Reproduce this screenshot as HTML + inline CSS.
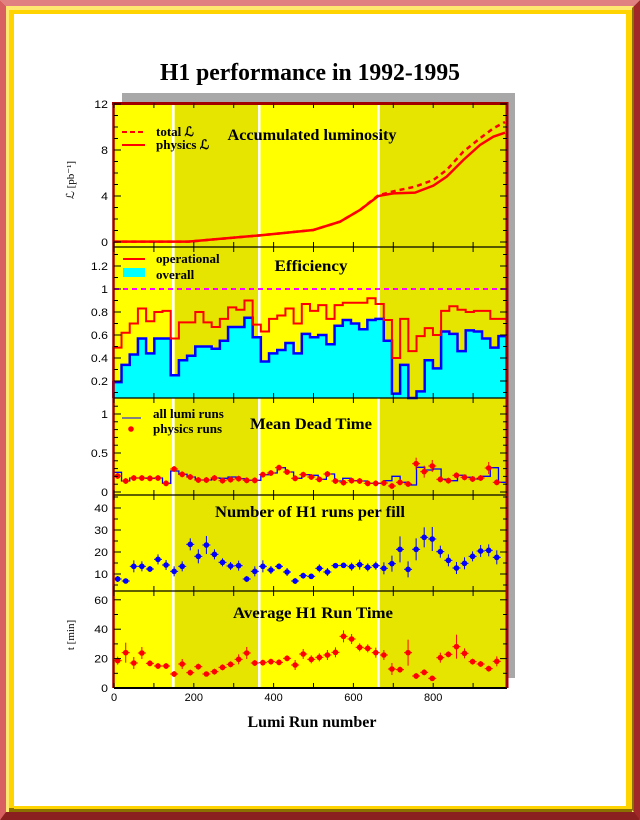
<!DOCTYPE html>
<html><head><meta charset="utf-8"><style>
html,body{margin:0;padding:0;background:#fff;}
body{width:640px;height:820px;position:relative;overflow:hidden;}
svg{position:absolute;left:0;top:0;}
</style></head><body>
<svg id="s" width="640" height="820" xmlns="http://www.w3.org/2000/svg">
<rect x="0" y="0" width="640" height="820" fill="#fff"/>
<polygon points="0,0 640,0 634,6 6,6" fill="#e08080"/>
<polygon points="0,0 6,6 6,814 0,820" fill="#d86060"/>
<polygon points="640,0 640,820 634,814 634,6" fill="#a02828"/>
<polygon points="0,820 640,820 634,812 6,812" fill="#8a2020"/>
<rect x="6" y="6" width="628" height="806" fill="#ffe870"/>
<rect x="9" y="10" width="623" height="798" fill="#ffd400"/>
<polygon points="632,8 634,6 634,812 632,810" fill="#8a7000"/>
<rect x="9" y="808" width="623" height="4" fill="#8a7000"/>
<rect x="14" y="14" width="612" height="792" fill="#fff"/>
<rect x="626" y="14" width="6" height="794" fill="#ffd400"/>
<rect x="14" y="806" width="618" height="3" fill="#ffd400"/>

<text x="310" y="80" text-anchor="middle" font-family="Liberation Serif" font-weight="bold" font-size="24" textLength="300" lengthAdjust="spacingAndGlyphs">H1 performance in 1992-1995</text>
<rect x="122" y="93" width="393" height="585" fill="#a8a8a8"/>
<g id="plot"></g>
</svg>
<script>
var NS="http://www.w3.org/2000/svg",g=document.getElementById('plot');
function el(t,a,txt){var e=document.createElementNS(NS,t);for(var k in a)e.setAttribute(k,a[k]);if(txt!==undefined)e.textContent=txt;g.appendChild(e);return e;}
var L=114,R=507,T=103,B=688;
function xu(u){return 114+u*0.399;}
el('rect',{x:L,y:T,width:R-L,height:B-T,fill:'#ffff00'});
el('rect',{x:175,y:T,width:83,height:B-T,fill:'#e5e500'});
el('rect',{x:380,y:T,width:R-380,height:B-T,fill:'#e5e500'});
[173,259,378].forEach(function(x){el('rect',{x:x-1,y:T,width:2.5,height:B-T,fill:'#fff'});});
function X(zx){return 60+zx/3;}function Y1(zy){return 90+zy/3;}function Y2(zy){return 395+zy/3;}
var N=48,bw=(1340-160)/N;
var red=[.49,.62,.70,.83,.72,.80,.81,.57,.71,.71,.80,.71,.67,.74,.84,.82,.90,.69,.63,.74,.77,.83,.70,.87,.81,.86,.74,.86,.88,.88,.88,.92,.87,.73,.40,.74,.46,.59,.66,.60,.81,.85,.82,.80,.81,.81,.74,.74,.76];
var blu=[.19,.34,.43,.57,.44,.57,.57,.25,.38,.42,.50,.50,.48,.55,.67,.67,.75,.58,.37,.44,.47,.53,.44,.61,.58,.60,.52,.68,.73,.70,.65,.73,.74,.55,.09,.34,0,.11,.38,.31,.63,.61,.46,.64,.63,.57,.49,.59,.45];
red=red.slice(0,N);blu=blu.slice(0,N);
function ye(v){return 289+(1-v)*115;}
function hist(vals,yf,bot){var d='M'+X(160)+','+bot;for(var i=0;i<N;i++){var y=Math.min(yf(vals[i]),bot);d+=' L'+X(160+i*bw)+','+y+' L'+X(160+(i+1)*bw)+','+y;}d+=' L'+X(1340)+','+bot;return d;}
el('path',{d:hist(blu,ye,398)+'Z',fill:'#00ffff'});
el('path',{d:hist(blu,ye,398),fill:'none',stroke:'#0000ff','stroke-width':2.5});
el('path',{d:hist(red,ye,398),fill:'none',stroke:'#ff0000','stroke-width':2});
el('line',{x1:L,y1:289,x2:R,y2:289,stroke:'#ff00ff','stroke-width':2,'stroke-dasharray':'5,4'});
var ph=[[160,455],[385,455],[600,436],[760,420],[840,395],[900,360],[955,318],[1000,310],[1065,308],[1120,287],[1160,260],[1210,210],[1260,165],[1300,140],[1335,128]];
var to=[[160,455],[385,455],[600,436],[760,420],[840,395],[900,360],[955,316],[1000,304],[1065,290],[1120,270],[1160,240],[1210,185],[1260,145],[1300,115],[1335,96]];
function pl(a,f){return a.map(function(p){return X(p[0])+','+f(p[1]);}).join(' ');}
el('polyline',{points:pl(to,Y1),fill:'none',stroke:'#ff0000','stroke-width':2.5,'stroke-dasharray':'5,4'});
el('polyline',{points:pl(ph,Y1),fill:'none',stroke:'#ff0000','stroke-width':2.5});
var cx=[];for(var i=0;i<49;i++)cx.push(173+i*24.2);
var dr=[243,258,249,249,250,249,265,222,238,246,255,255,249,257,254,251,256,256,239,234,218,231,250,239,246,253,237,258,263,257,258,265,265,264,273,262,267,206,230,213,253,257,241,247,252,249,219,262,227];
var db=dr.slice();db[0]=232;db[7]=228;db[33]=257;db[34]=244;db[36]=270;db[37]=217;db[38]=225;db[39]=222;db[45]=244;db[46]=218;db[48]=228;db[24]=241;db[28]=250;db[14]=246;db[13]=250;
var dd='M'+X(160)+','+Y2(292);for(var i=0;i<N;i++){dd+=' L'+X(160+i*bw)+','+Y2(db[i])+' L'+X(160+(i+1)*bw)+','+Y2(db[i]);}dd+=' L'+X(1340)+','+Y2(292);
el('path',{d:dd,fill:'none',stroke:'#0000ff','stroke-width':1.3});
function pts(vals,col,errs){for(var i=0;i<N;i++){var x=X(cx[i]),y=Y2(vals[i]),e=errs?errs[i]:2;
el('line',{x1:x-4,y1:y,x2:x+4,y2:y,stroke:col,'stroke-width':1});
el('line',{x1:x,y1:y-e,x2:x,y2:y+e,stroke:col,'stroke-width':1});
el('circle',{cx:x,cy:y,r:2.8,fill:col});}}
var de=dr.map(function(v,i){return [37,38,39,46].indexOf(i)>=0?6:3;});
pts(dr,'#ff0000',de);
var rn=[552,558,514,514,522,493,510,529,514,448,484,450,478,502,513,512,552,529,514,525,514,531,558,542,544,520,531,512,511,515,509,517,512,520,506,463,523,463,427,432,470,496,519,505,484,468,466,487,508];
var re=[3,2,6,5,3,5,5,5,5,6,7,9,5,4,4,5,3,5,6,4,3,4,3,3,2,4,4,2,2,4,5,4,4,6,8,13,8,11,10,12,6,6,6,6,5,6,6,7,6];
pts(rn,'#0000ff',re);
var rt=[797,773,804,774,805,813,813,837,807,833,815,837,830,817,808,793,774,804,803,800,802,790,810,777,793,787,780,772,724,732,757,760,773,780,822,824,773,843,832,850,788,778,755,775,800,807,821,799,820];
var te=[4,10,6,6,3,3,3,3,5,3,3,2,3,3,3,5,6,3,3,3,3,3,5,5,4,4,5,5,6,5,4,4,5,5,6,3,13,3,3,2,5,3,12,5,3,3,3,5,3];
pts(rt,'#ff0000',te);
[247,398,495,591].forEach(function(y){el('line',{x1:L,y1:y,x2:R,y2:y,stroke:'#000','stroke-width':1.3});});
el('line',{x1:L,y1:B,x2:R,y2:B,stroke:'#000','stroke-width':2});
el('line',{x1:113.5,y1:102,x2:113.5,y2:B,stroke:'#a00000','stroke-width':2.5});
el('line',{x1:507,y1:102,x2:507,y2:B,stroke:'#a00000','stroke-width':3});
el('line',{x1:112,y1:103.5,x2:508.5,y2:103.5,stroke:'#a00000','stroke-width':3});
var pan=[[103,247],[247,398],[398,495],[495,591],[591,688]];
for(var u=0;u<=980;u+=100){var x=xu(u);pan.forEach(function(p){el('line',{x1:x,y1:p[0],x2:x,y2:p[0]+5,stroke:'#000'});el('line',{x1:x,y1:p[1],x2:x,y2:p[1]-5,stroke:'#000'});});}
function yt(vals,f,major,labels){vals.forEach(function(v){var y=f(v),len=major(v)?7:4;el('line',{x1:L,y1:y,x2:L+len,y2:y,stroke:'#000'});el('line',{x1:R,y1:y,x2:R-len,y2:y,stroke:'#000'});});
labels.forEach(function(l){el('text',{x:108,y:f(l[0])+4,'text-anchor':'end','font-family':'Liberation Sans','font-size':11,transform:'translate(108 0) scale(1.12 1) translate(-108 0)'},l[1]);});}
var a=[];for(var v=0;v<=12;v+=1)a.push(v);
yt(a,function(v){return 242-v*11.5;},function(v){return v%4==0;},[[0,'0'],[4,'4'],[8,'8'],[12,'12']]);
a=[];for(var v=0.1;v<=1.3;v+=0.1)a.push(v);
yt(a,ye,function(v){return Math.round(v*10)%2==0;},[[.2,'0.2'],[.4,'0.4'],[.6,'0.6'],[.8,'0.8'],[1,'1'],[1.2,'1.2']]);
a=[];for(var v=0;v<=1.1;v+=0.1)a.push(v);
yt(a,function(v){return 492-v*78;},function(v){return Math.round(v*10)%5==0;},[[0,'0'],[.5,'0.5'],[1,'1']]);
a=[];for(var v=5;v<=45;v+=5)a.push(v);
yt(a,function(v){return 596-v*2.2;},function(v){return v%10==0;},[[10,'10'],[20,'20'],[30,'30'],[40,'40']]);
a=[];for(var v=0;v<=60;v+=10)a.push(v);
yt(a,function(v){return 688-v*1.47;},function(v){return v%20==0;},[[0,'0'],[20,'20'],[40,'40'],[60,'60']]);
[[0,'0'],[200,'200'],[400,'400'],[600,'600'],[800,'800']].forEach(function(l){el('text',{x:xu(l[0]),y:701,'text-anchor':'middle','font-family':'Liberation Sans','font-size':11},l[1]);});
function t(x,y,s,w,sz){el('text',{x:x,y:y,'text-anchor':'middle','font-family':'Liberation Serif','font-weight':'bold','font-size':sz||16,textLength:w,lengthAdjust:'spacingAndGlyphs'},s);}
t(312,140,'Accumulated luminosity',169);t(311,271,'Efficiency',73);t(311,429,'Mean Dead Time',122);t(310,517,'Number of H1 runs per fill',190);t(313,618,'Average H1 Run Time',160);t(312,727,'Lumi Run number',129);
function lt(x,y,s){el('text',{x:x,y:y,'font-family':'Liberation Serif','font-weight':'bold','font-size':13},s);}
el('line',{x1:122,y1:132,x2:145,y2:132,stroke:'#ff0000','stroke-width':2,'stroke-dasharray':'5,3'});lt(156,136,'total \u2112');
el('line',{x1:122,y1:145,x2:145,y2:145,stroke:'#ff0000','stroke-width':2});lt(156,149,'physics \u2112');
el('line',{x1:123,y1:259,x2:145,y2:259,stroke:'#ff0000','stroke-width':2});lt(156,263,'operational');
el('rect',{x:123,y:268,width:22,height:9,fill:'#00ffff'});lt(156,279,'overall');
el('line',{x1:122,y1:418,x2:141,y2:418,stroke:'#0000ff','stroke-width':1});lt(153,418,'all lumi runs');
el('circle',{cx:131,cy:429,r:2.8,fill:'#ff0000'});lt(153,433,'physics runs');
el('text',{x:74,y:180,transform:'rotate(-90 74 180)','text-anchor':'middle','font-family':'Liberation Serif','font-size':11},'\u2112 [pb\u207B\u00B9]');
el('text',{x:74,y:635,transform:'rotate(-90 74 635)','text-anchor':'middle','font-family':'Liberation Serif','font-size':11},'t [min]');
</script>
</body></html>
